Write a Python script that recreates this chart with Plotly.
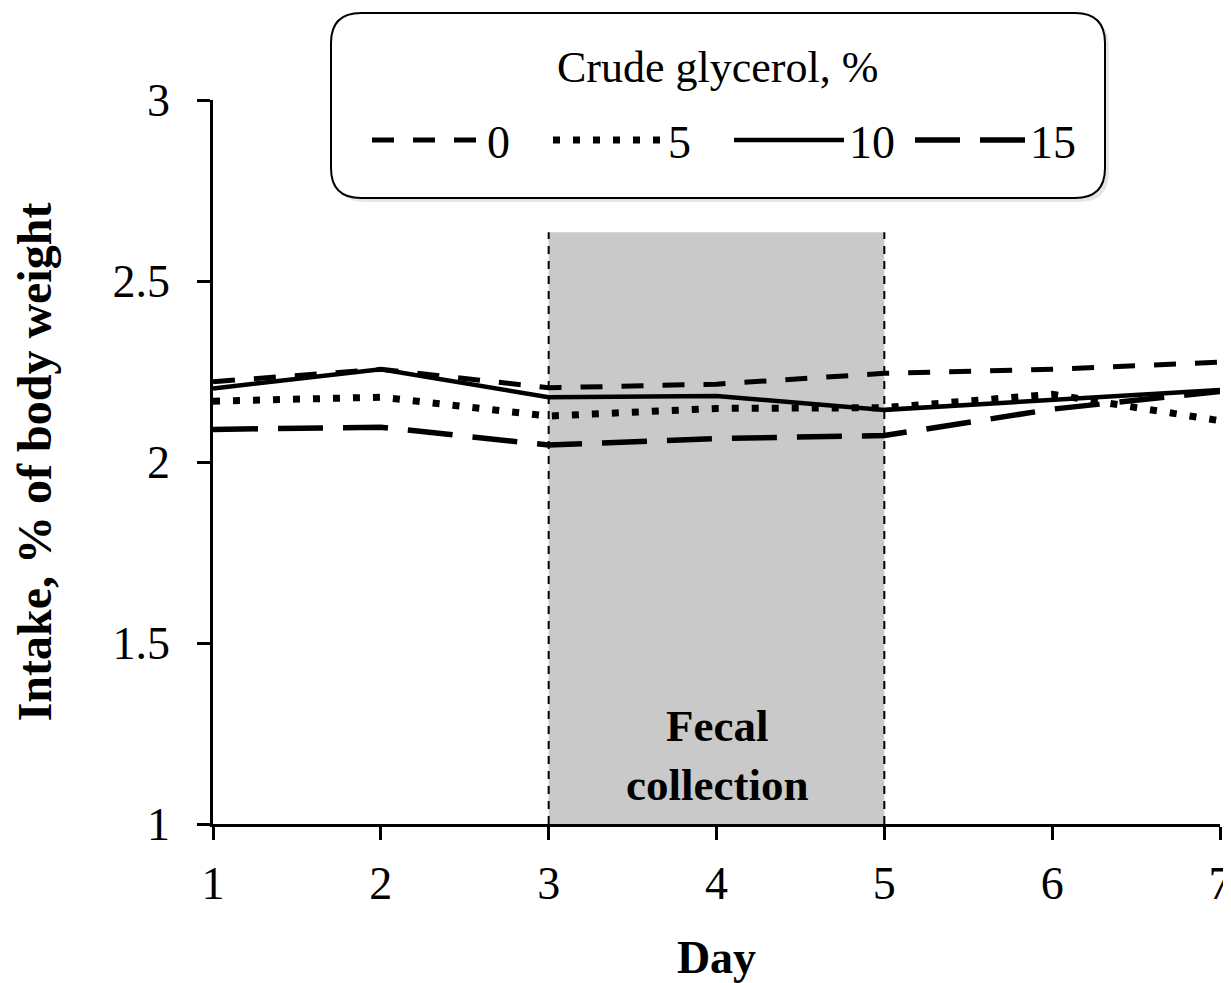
import plotly.graph_objects as go

days = [1, 2, 3, 4, 5, 6, 7]
series_names = ["0", "5", "10", "15"]
cg0 = [2.222, 2.256, 2.205, 2.215, 2.245, 2.256, 2.276]
cg5 = [2.168, 2.179, 2.127, 2.148, 2.150, 2.187, 2.114]
cg10 = [2.203, 2.256, 2.179, 2.182, 2.144, 2.172, 2.199]
cg15 = [2.090, 2.096, 2.047, 2.065, 2.073, 2.146, 2.195]
collection_start, collection_end = 3, 5
shade_top = 2.635
shade_label = "Fecal<br>collection"
legend_title = "Crude glycerol, %"
x_ticks = [1, 2, 3, 4, 5, 6, 7]
y_ticks = [1, 1.5, 2, 2.5, 3]
y_tick_labels = ["1", "1.5", "2", "2.5", "3"]

FONT = "Liberation Serif, Times New Roman, serif"

styles = [
    dict(dash="22px,19px", width=5),
    dict(dash="7px,13px", width=7),
    dict(dash="solid", width=4.5),
    dict(dash="45px,20px", width=5.5),
]

fig = go.Figure()
for name, vals, st in zip(series_names, [cg0, cg5, cg10, cg15], styles):
    fig.add_trace(go.Scatter(
        x=days, y=vals, mode="lines", name=name,
        line=dict(color="black", width=st["width"], dash=st["dash"]),
    ))

# shaded fecal collection period
fig.add_shape(type="rect", xref="x", yref="y", x0=collection_start, x1=collection_end,
              y0=1, y1=shade_top, fillcolor="#C9C9C9", line=dict(width=0), layer="below")
for xv in [collection_start, collection_end]:
    fig.add_shape(type="line", xref="x", yref="y", x0=xv, x1=xv, y0=1, y1=shade_top,
                  line=dict(color="black", width=2, dash="8px,7px"), layer="above")

fig.add_annotation(x=(collection_start + collection_end) / 2, y=1.19, xref="x", yref="y",
                   text=shade_label, showarrow=False,
                   font=dict(family=FONT, size=45, color="black", weight="bold"))

# plot-area geometry in page pixels (page has an 8px body margin)
PX0, PX1, PY0, PY1 = 213, 1220, 100, 824
W, H = float(PX1 - PX0), float(PY1 - PY0)

def px(x):
    return (x - PX0) / W

def py(y):
    return (PY1 - y) / H

# rounded legend box
def rounded(x0, y0, x1, y1, rx, ry):
    return (f"M{x0+rx},{y0} L{x1-rx},{y0} Q{x1},{y0} {x1},{y0+ry} "
            f"L{x1},{y1-ry} Q{x1},{y1} {x1-rx},{y1} L{x0+rx},{y1} "
            f"Q{x0},{y1} {x0},{y1-ry} L{x0},{y0+ry} Q{x0},{y0} {x0+rx},{y0} Z")

bx0, bx1 = px(331), px(1105)
by0, by1 = py(198), py(13)
rx, ry = 30 / W, 30 / H
fig.add_shape(type="path", xref="paper", yref="paper",
              path=rounded(bx0 + 4 / W, by0 - 4 / H, bx1 + 4 / W, by1 - 4 / H, rx, ry),
              fillcolor="#E6E6E6", line=dict(width=0), layer="above")
fig.add_shape(type="path", xref="paper", yref="paper",
              path=rounded(bx0, by0, bx1, by1, rx, ry),
              fillcolor="white", line=dict(color="black", width=2), layer="above")

fig.add_annotation(x=px(717.5), y=py(68), xref="paper", yref="paper",
                   xanchor="center", yanchor="middle", text=legend_title, showarrow=False,
                   font=dict(family=FONT, size=44, color="black"))

axis_common = dict(
    showline=True, linecolor="black", linewidth=2.5,
    ticks="outside", ticklen=13, tickwidth=2.5, tickcolor="black",
    showgrid=False, zeroline=False, automargin=False,
    tickfont=dict(family=FONT, size=46, color="black"),
)

fig.update_layout(
    template="none",
    width=1223, height=975,
    margin=dict(l=205, r=11, t=92, b=159, pad=0),
    paper_bgcolor="white", plot_bgcolor="white",
    xaxis=dict(range=[1, 7], tickvals=x_ticks, ticklabelstandoff=4,
               ticklabeloverflow="allow",
               title=dict(text="Day", font=dict(family=FONT, size=46, color="black", weight="bold"),
                          standoff=40),
               **axis_common),
    yaxis=dict(range=[1, 3], tickvals=y_ticks, ticktext=y_tick_labels, ticklabelstandoff=18,
               title=dict(text="Intake, % of body weight",
                          font=dict(family=FONT, size=48, color="black", weight="bold"),
                          standoff=62),
               **axis_common),
    showlegend=True,
    legend=dict(
        orientation="h", x=px(729), xanchor="center", y=py(140), yanchor="middle",
        bgcolor="rgba(0,0,0,0)", borderwidth=0,
        itemwidth=110, entrywidth=56, entrywidthmode="pixels",
        font=dict(family=FONT, size=46, color="black"),
    ),
)

fig.write_html("out.html")
